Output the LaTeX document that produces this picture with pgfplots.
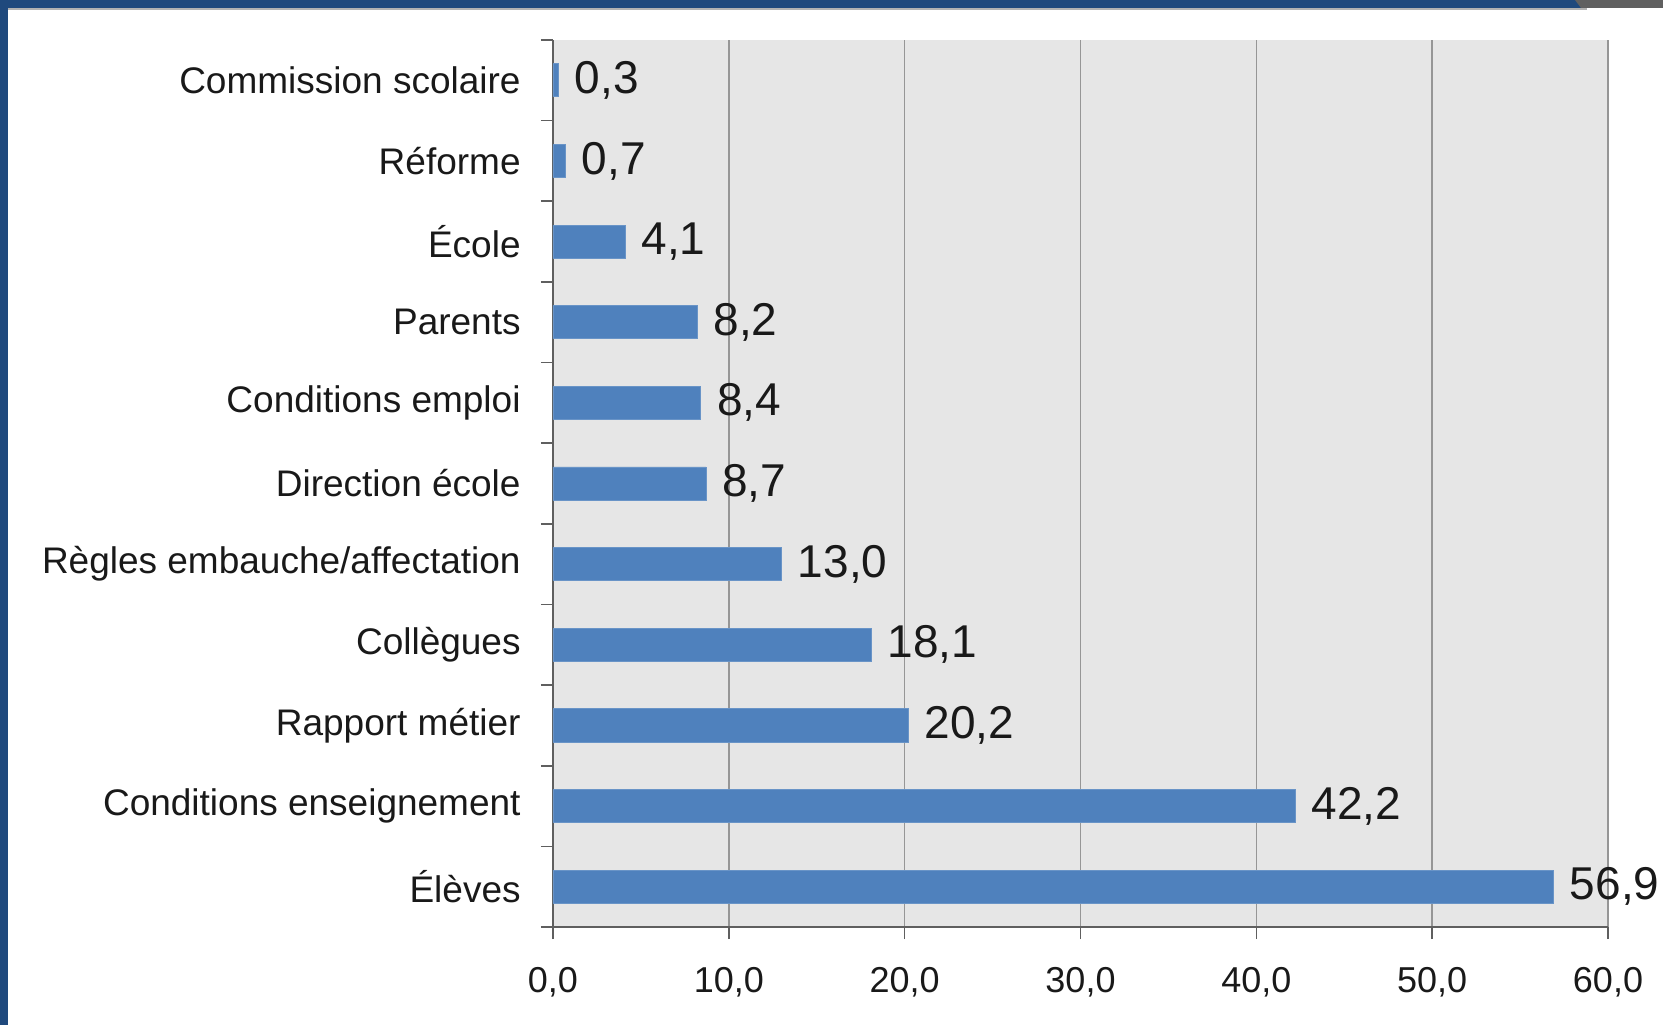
\documentclass[border=0pt]{standalone}
\usepackage{fontspec}
\setmainfont{Liberation Sans}
\usepackage{pgfplots}
\pgfplotsset{compat=1.18}

\definecolor{barblue}{RGB}{79,129,189}
\definecolor{frameblue}{RGB}{31,73,125}
\definecolor{plotbg}{RGB}{230,230,230}
\definecolor{gridgray}{RGB}{150,150,150}
\definecolor{axisgray}{RGB}{95,95,95}
\definecolor{txt}{RGB}{25,25,25}

\begin{document}
\begin{tikzpicture}
% page background and frame
\fill[white] (-276.5pt,-49pt) rectangle (555pt,463.5pt);
\fill[gray!60] (-272.5pt,458.5pt) rectangle (517pt,459.5pt);
\fill[frameblue] (-276.5pt,459.5pt) rectangle (517pt,463.5pt);
\fill[frameblue] (-276.5pt,-49pt) rectangle (-272.5pt,463.5pt);
\fill[gray!75!black] (511pt,463.5pt) -- (514pt,459.5pt) -- (555pt,459.5pt) -- (555pt,463.5pt) -- cycle;

\begin{axis}[
    scale only axis,
    width=527.5pt, height=443.5pt,
    xbar, bar width=0.41,
    xmin=0, xmax=60, ymin=-0.5, ymax=10.5,
    axis lines*=left,
    axis line style={axisgray, line width=0.8pt},
    axis background/.style={fill=plotbg},
    tick align=outside,
    major tick length=6pt,
    tick style={axisgray, line width=0.8pt},
    xmajorgrids,
    major grid style={gridgray, line width=0.7pt},
    xtick={0,10,...,60},
    xticklabel={\pgfmathprintnumber[fixed,fixed zerofill,precision=1,use comma,assume math mode=true]{\tick}},
    xticklabel style={font=\fontsize{18}{22}\selectfont, txt, inner sep=0pt, anchor=north, yshift=-14pt},
    ytick={-0.5,0.5,...,10.5},
    yticklabel={\mbox{}},
    extra y ticks={0,1,2,3,4,5,6,7,8,9,10},
    extra y tick labels={Élèves, Conditions enseignement, Rapport métier, Collègues,
        Règles embauche/affectation, Direction école, Conditions emploi, Parents,
        École, Réforme, Commission scolaire},
    extra y tick style={major tick length=0pt,
        yticklabel style={font=\fontsize{18.5}{22}\selectfont, txt, anchor=east, inner sep=0pt, xshift=-16pt}},
    nodes near coords={\pgfmathprintnumber[fixed,fixed zerofill,precision=1,use comma,assume math mode=true]{\pgfplotspointmeta}},
    point meta=x,
    nodes near coords style={font=\fontsize{23}{27}\selectfont, txt, anchor=west, inner sep=0pt, xshift=8pt},
    clip=false,
]
\addplot[fill=barblue, draw=barblue!85!white] coordinates {
    (56.9,0) (42.2,1) (20.2,2) (18.1,3) (13.0,4) (8.7,5)
    (8.4,6) (8.2,7) (4.1,8) (0.7,9) (0.3,10)
};
\end{axis}
\pgfresetboundingbox
\path (-276.5pt,-49pt) rectangle (555pt,463.5pt);
\end{tikzpicture}
\end{document}
